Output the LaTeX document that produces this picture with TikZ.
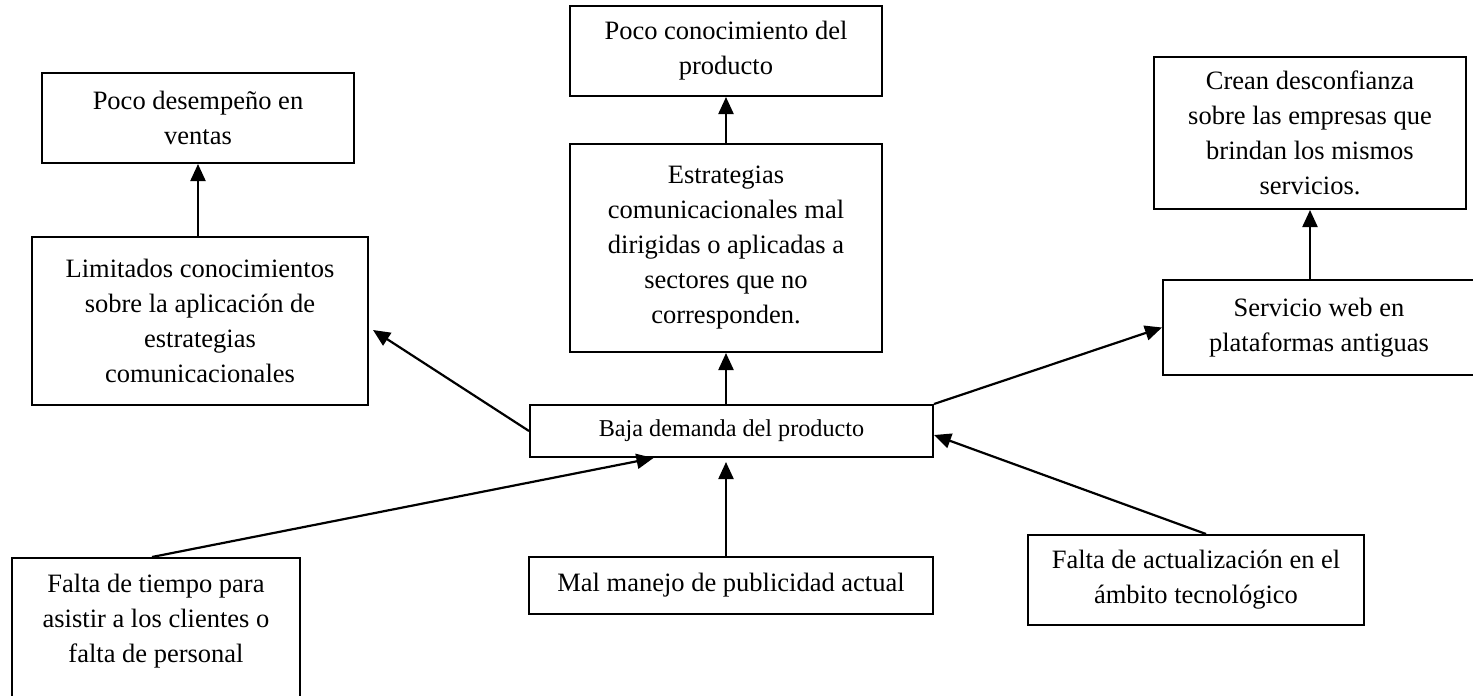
\documentclass[tikz,border=0pt]{standalone}
\usepackage{fontspec}
\setmainfont{Liberation Serif}
\usetikzlibrary{positioning, arrows.meta}
\tikzset{
caja/.style={
    draw,
    line width=1pt,
    align=center,
    inner sep=0pt,
    font=\fontsize{13.25}{17.5}\selectfont
},
flecha/.style={
    -{Triangle[length=8.5pt, width=7.5pt]},
    line width=1.1pt
}
}

\begin{document}
\begin{tikzpicture}[x=0.5pt, y=-0.5pt]
\useasboundingbox (0,0) rectangle (1473,696);

% CENTRO: PROBLEMA
\node[caja, minimum width=201.5pt, minimum height=26pt,
      font=\fontsize{12.1}{14.5}\selectfont] (baja) at (731.5,431)
      {Baja demanda del producto};

% IZQUIERDA
\node[caja, minimum width=168pt, minimum height=84pt] (limit) at (200,321)
      {Limitados conocimientos\\ sobre la aplicación de\\ estrategias\\ comunicacionales};
\node[caja, minimum width=156pt, minimum height=45pt, above=36pt of limit, xshift=-1pt] (desemp)
      {Poco desempeño en\\ ventas};

% CENTRO: EFECTOS
\node[caja, minimum width=156pt, minimum height=104pt] (estrat) at (726,248)
      {Estrategias\\ comunicacionales mal\\ dirigidas o aplicadas a\\ sectores que no\\ corresponden.};
\node[caja, minimum width=156pt, minimum height=45pt, above=23pt of estrat] (conoc)
      {Poco conocimiento del\\ producto};

% DERECHA
\node[caja, minimum width=156pt, minimum height=47.5pt] (servicio) at (1319,327.5)
      {Servicio web en\\ plataformas antiguas};
\node[caja, minimum width=156pt, minimum height=76pt, above=34.5pt of servicio, xshift=-4.5pt] (crean)
      {Crean desconfianza\\ sobre las empresas que\\ brindan los mismos\\ servicios.};

% ABAJO: CAUSAS
\node[caja, minimum width=144pt, inner ysep=8pt, anchor=north] (tiempo) at (156,557)
      {Falta de tiempo para\\ asistir a los clientes o\\ falta de personal\\ \mbox{}\\ \mbox{}};
\node[caja, minimum width=202pt, minimum height=28.5pt] (publi) at (731,585.5)
      {Mal manejo de publicidad actual};
\node[caja, minimum width=168pt, minimum height=45pt] (actual) at (1196,580)
      {Falta de actualización en el\\ ámbito tecnológico};

% FLECHAS
\draw[flecha] (limit.north -| desemp.south) -- (desemp.south);
\draw[flecha] (estrat.north) -- (conoc.south);
\draw[flecha] (servicio.north -| crean.south) -- (crean.south);
\draw[flecha] (baja.north -| estrat.south) -- (estrat.south);
\draw[flecha] (baja.west) -- ([yshift=-4.5pt, xshift=2pt]limit.east);
\draw[flecha] (baja.north east) -- (servicio.west);
\draw[flecha] ([xshift=-2pt]tiempo.north) -- ([xshift=-39pt]baja.south);
\draw[flecha] (publi.north -| estrat.south) -- ([yshift=-2pt]baja.south -| estrat.south);
\draw[flecha] ([xshift=5pt]actual.north) -- ([yshift=-2pt]baja.east);

\end{tikzpicture}
\end{document}
